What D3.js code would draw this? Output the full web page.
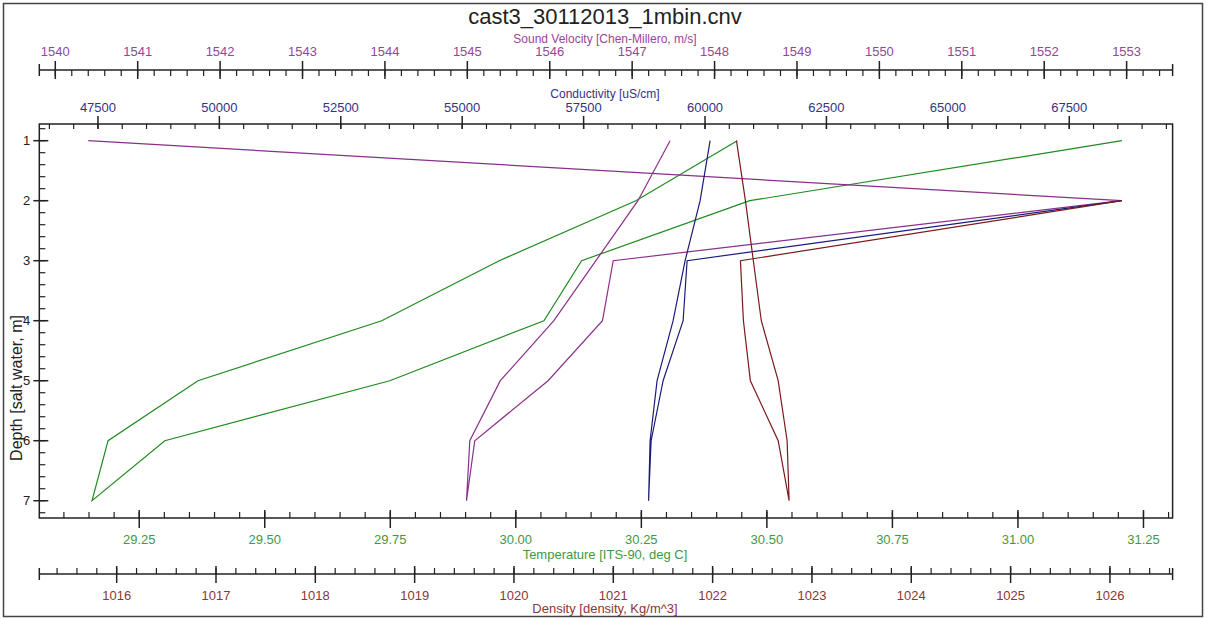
<!DOCTYPE html>
<html>
<head>
<meta charset="utf-8">
<script src="https://cdn.jsdelivr.net/npm/d3@7"></script>
<style>
  html, body { margin: 0; padding: 0; background: #fff; }
  svg { display: block; font-family: Arial, "Liberation Sans", sans-serif; }
</style>
</head>
<body>
<svg id="chart" width="1207" height="619"></svg>
<script>
// ---------------- data ----------------
const title = "cast3_30112013_1mbin.cnv";
const depths = [1, 2, 3, 4, 5, 6, 7];

// downcast (depth 1 -> 7) and upcast (depth 1 -> 7, drawn back up)
const soundDown = [1540.40, 1552.94, 1546.77, 1546.64, 1545.98, 1545.09, 1544.99];
const soundUp   = [1547.46, 1547.07, 1546.56, 1546.05, 1545.40, 1545.03, 1544.99];
const condDown  = [null, 68585, 59631, 59549, 59137, 58890, 58838];
const condUp    = [60105, 59899, 59590, 59343, 59013, 58869, 58838];
const tempDown  = [31.207, 30.466, 30.131, 30.056, 29.749, 29.301, 29.156];
const tempUp    = [30.441, 30.239, 29.967, 29.733, 29.367, 29.188, 29.156];
const densDown  = [null, 1026.12, 1022.28, 1022.31, 1022.38, 1022.66, 1022.77];
const densUp    = [1022.24, 1022.33, 1022.41, 1022.49, 1022.66, 1022.75, 1022.77];

// tick labels
const depthTicks = [1, 2, 3, 4, 5, 6, 7];
const soundTicks = [1540, 1541, 1542, 1543, 1544, 1545, 1546, 1547, 1548, 1549, 1550, 1551, 1552, 1553];
const condTicks  = [47500, 50000, 52500, 55000, 57500, 60000, 62500, 65000, 67500];
const tempTicks  = [29.25, 29.50, 29.75, 30.00, 30.25, 30.50, 30.75, 31.00, 31.25];
const densTicks  = [1016, 1017, 1018, 1019, 1020, 1021, 1022, 1023, 1024, 1025, 1026];

const axisTitles = {
  sound: "Sound Velocity [Chen-Millero, m/s]",
  cond: "Conductivity [uS/cm]",
  temp: "Temperature [ITS-90, deg C]",
  dens: "Density [density, Kg/m^3]",
  depth: "Depth [salt water, m]"
};

// ---------------- layout ----------------
const L = 39.3, R = 1172.6, T = 124, B = 518;
const cSound = "#8a2f8a", cCond = "#1c1c78", cTemp = "#1f8a1f", cDens = "#7a1a1a";
const tSound = "#99449a", tCond = "#333388", tTemp = "#3f9a3f", tDens = "#8e3535";

const svg = d3.select("#chart");

const y  = d3.scaleLinear().domain([0.7217, 7.288]).range([T, B]);
const xS = d3.scaleLinear().domain([1539.806, 1553.558]).range([L, R]);
const xC = d3.scaleLinear().domain([46292, 69628]).range([L, R]);
const xT = d3.scaleLinear().domain([29.051, 31.308]).range([L, R]);
const xD = d3.scaleLinear().domain([1015.221, 1026.631]).range([L, R]);

// outer frame
svg.append("rect").attr("x", 3.5).attr("y", 3.5).attr("width", 1199).attr("height", 613)
  .attr("fill", "none").attr("stroke", "#444").attr("stroke-width", 1.5);

// title
svg.append("text").attr("x", 605).attr("y", 24).attr("text-anchor", "middle")
  .attr("font-size", 22).attr("fill", "#222").text(title);

function minorTicks(scale, step) {
  const [a, b] = scale.domain();
  const out = [];
  const start = Math.ceil(a / step - 1e-9);
  for (let i = start; i * step <= b + 1e-9; i++) out.push(+(i * step).toFixed(6));
  return out;
}

// generic horizontal axis
function hAxis(opt) {
  const g = svg.append("g");
  const s = opt.scale;
  if (opt.line) {
    g.append("line").attr("x1", L).attr("x2", R).attr("y1", opt.y).attr("y2", opt.y)
      .attr("stroke", "#222").attr("stroke-width", 1.5);
    [L, R].forEach(x => g.append("line").attr("x1", x).attr("x2", x)
      .attr("y1", opt.y - 6).attr("y2", opt.y + 6).attr("stroke", "#222").attr("stroke-width", 1.5));
  }
  g.selectAll(null).data(minorTicks(s, opt.minor)).enter().append("line")
    .attr("x1", d => s(d)).attr("x2", d => s(d))
    .attr("y1", opt.y).attr("y2", opt.y + opt.minorDir)
    .attr("stroke", "#222").attr("stroke-width", 1.2);
  g.selectAll(null).data(opt.ticks).enter().append("line")
    .attr("x1", d => s(d)).attr("x2", d => s(d))
    .attr("y1", opt.y + opt.majorUp).attr("y2", opt.y + opt.majorDown)
    .attr("stroke", "#222").attr("stroke-width", 1.5);
  g.selectAll(null).data(opt.ticks).enter().append("text")
    .attr("x", d => s(d)).attr("y", opt.labelY).attr("text-anchor", "middle")
    .attr("font-size", 13).attr("fill", opt.color).text(opt.fmt);
  g.append("text").attr("x", 605).attr("y", opt.titleY).attr("text-anchor", "middle")
    .attr("font-size", opt.titleSize || 13).attr("fill", opt.color).text(opt.title);
}

hAxis({ scale: xS, y: 70, line: true, minor: 0.2, minorDir: 6, majorUp: -9, majorDown: 9,
  ticks: soundTicks, labelY: 56, titleY: 42.5, titleSize: 12, color: tSound, fmt: d3.format("d"), title: axisTitles.sound });
hAxis({ scale: xC, y: T, line: false, minor: 500, minorDir: 5, majorUp: -8, majorDown: 5,
  ticks: condTicks, labelY: 111.5, titleY: 97.5, titleSize: 12, color: tCond, fmt: d3.format("d"), title: axisTitles.cond });
hAxis({ scale: xT, y: B, line: false, minor: 0.05, minorDir: -6, majorUp: -8, majorDown: 10,
  ticks: tempTicks, labelY: 543.5, titleY: 558.5, color: tTemp, fmt: d3.format(".2f"), title: axisTitles.temp });
hAxis({ scale: xD, y: 574, line: true, minor: 0.2, minorDir: -6, majorUp: -8, majorDown: 9,
  ticks: densTicks, labelY: 599.5, titleY: 613, color: tDens, fmt: d3.format("d"), title: axisTitles.dens });

// plot frame
svg.append("rect").attr("x", L).attr("y", T).attr("width", R - L).attr("height", B - T)
  .attr("fill", "none").attr("stroke", "#222").attr("stroke-width", 1.5);

// depth axis
const gy = svg.append("g");
gy.selectAll(null).data(minorTicks(y, 0.2)).enter().append("line")
  .attr("x1", L).attr("x2", L + 6).attr("y1", d => y(d)).attr("y2", d => y(d))
  .attr("stroke", "#222").attr("stroke-width", 1.2);
gy.selectAll(null).data(depthTicks).enter().append("line")
  .attr("x1", L - 6).attr("x2", L + 9).attr("y1", d => y(d)).attr("y2", d => y(d))
  .attr("stroke", "#222").attr("stroke-width", 1.5);
gy.selectAll(null).data(depthTicks).enter().append("text")
  .attr("x", L - 9).attr("y", d => y(d) + 4.5).attr("text-anchor", "end")
  .attr("font-size", 13).attr("fill", "#222").text(d => d);
gy.append("text").attr("transform", "translate(22,388) rotate(-90)")
  .attr("text-anchor", "middle").attr("font-size", 16).attr("fill", "#222").text(axisTitles.depth);

// series
function drawSeries(xs, down, up, color) {
  const pts = [];
  depths.forEach((d, i) => pts.push({ d, v: down[i] }));
  for (let i = depths.length - 1; i >= 0; i--) pts.push({ d: depths[i], v: up[i] });
  const line = d3.line().defined(p => p.v != null).x(p => xs(p.v)).y(p => y(p.d));
  svg.append("path").datum(pts).attr("d", line).attr("fill", "none")
    .attr("stroke", color).attr("stroke-width", 1.2);
}
drawSeries(xT, tempDown, tempUp, cTemp);
drawSeries(xS, soundDown, soundUp, cSound);
drawSeries(xC, condDown, condUp, cCond);
drawSeries(xD, densDown, densUp, cDens);
</script>
</body>
</html>
